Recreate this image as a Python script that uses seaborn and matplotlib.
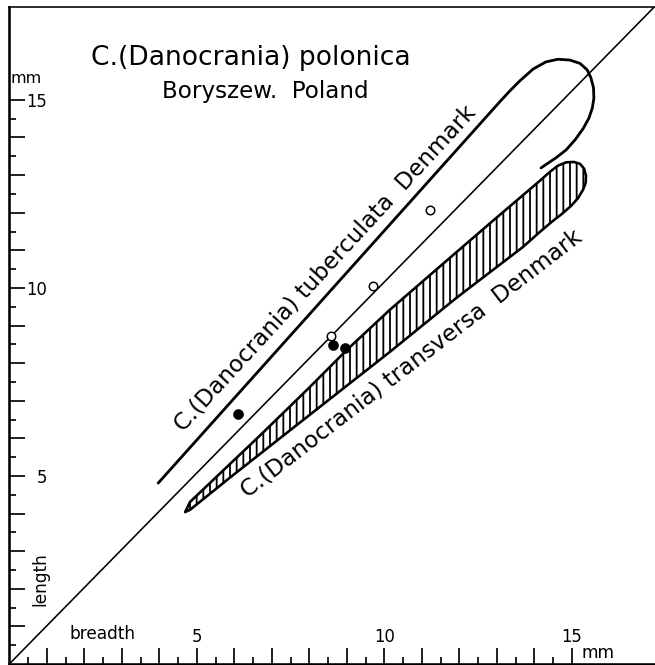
import numpy as np
import pandas as pd
import matplotlib
matplotlib.use("Agg")
import matplotlib.pyplot as plt
from matplotlib.ticker import FixedLocator, FixedFormatter
import seaborn as sns

DPI = 80


def pt(px):
    # convert pixels at DPI to points
    return px * 72 / DPI


# measured specimens (breadth, length in mm)
open_breadth = [8.59, 9.71, 11.22]
open_length = [8.72, 10.06, 12.06]
filled_breadth = [6.11, 8.62, 8.95]
filled_length = [6.65, 8.48, 8.40]

# C. tuberculata field (outline)
tub_x = [3.97, 13.09, 13.35, 13.62, 13.97, 14.31, 14.63, 14.95, 15.22, 15.41, 15.51, 15.58, 15.59,
         15.55, 15.46, 15.30, 15.09, 14.85, 14.58, 14.34, 14.18]
tub_y = [4.81, 14.96, 15.24, 15.51, 15.82, 16.01, 16.08, 16.06, 15.97, 15.80, 15.59, 15.32, 15.05,
         14.79, 14.52, 14.23, 13.94, 13.67, 13.46, 13.30, 13.19]

# C. transversa field (hatched)
trans_x = [4.69, 4.82, 6.69, 8.00, 9.00, 10.15, 11.75, 12.82, 14.15, 14.42, 14.63, 14.85, 15.06,
           15.22, 15.33, 15.38, 15.37, 15.30, 15.17, 14.98, 14.74, 14.47, 14.15, 13.70, 11.93,
           10.15, 7.75, 5.89, 4.82]
trans_y = [4.04, 4.31, 6.08, 7.35, 8.35, 9.42, 10.80, 11.72, 12.85, 13.09, 13.25, 13.34, 13.35,
           13.30, 13.17, 12.98, 12.79, 12.61, 12.39, 12.18, 11.97, 11.76, 11.49, 11.09, 9.74,
           8.30, 6.42, 4.96, 4.10]

# length = breadth reference
diag_x = [0, 17.2]
diag_y = [0, 17.47]

major_ticks = list(range(1, 16))
minor_ticks = [i + 0.5 for i in range(0, 15)]
tick_labels = ["5" if t == 5 else "10" if t == 10 else "15" if t == 15 else "" for t in major_ticks]

sns.set_style("ticks")
plt.rcParams["font.family"] = ["DejaVu Sans"]
plt.rcParams["text.color"] = "black"
plt.rcParams["xtick.labelcolor"] = "black"
plt.rcParams["ytick.labelcolor"] = "black"
plt.rcParams["hatch.linewidth"] = pt(1.8)

fig = plt.figure(figsize=(655 / DPI, 665 / DPI), dpi=DPI)
ax = fig.add_axes([9.3 / 655, 1 / 665, 1 - 9.3 / 655, 657 / 665])
ax.set_xlim(0, 17.22)
ax.set_ylim(0, 17.47)

sns.lineplot(x=diag_x, y=diag_y, color="black", lw=pt(1.6), ax=ax)
sns.lineplot(x=tub_x, y=tub_y, sort=False, estimator=None, color="black", lw=pt(2.8), ax=ax)
ax.fill(trans_x, trans_y, facecolor="white", edgecolor="black", hatch="||", lw=pt(2.6),
        joinstyle="round", zorder=2)

sns.scatterplot(x=filled_breadth, y=filled_length, color="black", s=pt(10) ** 2,
                edgecolor="black", linewidth=0.5, ax=ax, zorder=4)
sns.scatterplot(x=open_breadth, y=open_length, color="white", s=pt(8.5) ** 2,
                edgecolor="black", linewidth=pt(1.5), ax=ax, zorder=4)

# texts
ax.text(6.45, 16.12, "C.(Danocrania) polonica", fontsize=pt(26.5), ha="center", va="center")
ax.text(6.82, 15.21, "Boryszew.  Poland", fontsize=pt(23), ha="center", va="center")
ax.text(8.42, 10.53, "C.(Danocrania) tuberculata  Denmark", fontsize=pt(23), rotation=47.4,
        ha="center", va="center", rotation_mode="anchor")
ax.text(10.73, 8.0, "C.(Danocrania) transversa  Denmark", fontsize=pt(23), rotation=37.6,
        ha="center", va="center", rotation_mode="anchor")
ax.text(0.45, 15.56, "mm", fontsize=pt(16), ha="center", va="center")
ax.text(15.7, 0.29, "mm", fontsize=pt(17), ha="center", va="center")
ax.text(2.5, 0.8, "breadth", fontsize=pt(17), ha="center", va="center")
ax.text(0.82, 2.26, "length", fontsize=pt(17), rotation=90, ha="center", va="center")

# axis frame and ticks
for side in ["left", "bottom"]:
    ax.spines[side].set_linewidth(pt(2.6))
ax.spines["top"].set_linewidth(pt(1.6))
ax.spines["right"].set_visible(False)
for side in ax.spines:
    ax.spines[side].set_color("black")

for axis in [ax.xaxis, ax.yaxis]:
    axis.set_major_locator(FixedLocator(major_ticks))
    axis.set_major_formatter(FixedFormatter(tick_labels))
    axis.set_minor_locator(FixedLocator(minor_ticks))

ax.tick_params(which="major", direction="in", length=pt(16), width=pt(1.7), color="black",
               labelsize=pt(16.5), top=False, right=False)
ax.tick_params(which="minor", direction="in", length=pt(7), width=pt(1.7), color="black",
               top=False, right=False)
ax.tick_params(axis="x", which="major", pad=-pt(36))
ax.tick_params(axis="y", which="major", pad=-pt(38))
ax.set_xlabel("")
ax.set_ylabel("")

fig.savefig("out.png", dpi=DPI)
